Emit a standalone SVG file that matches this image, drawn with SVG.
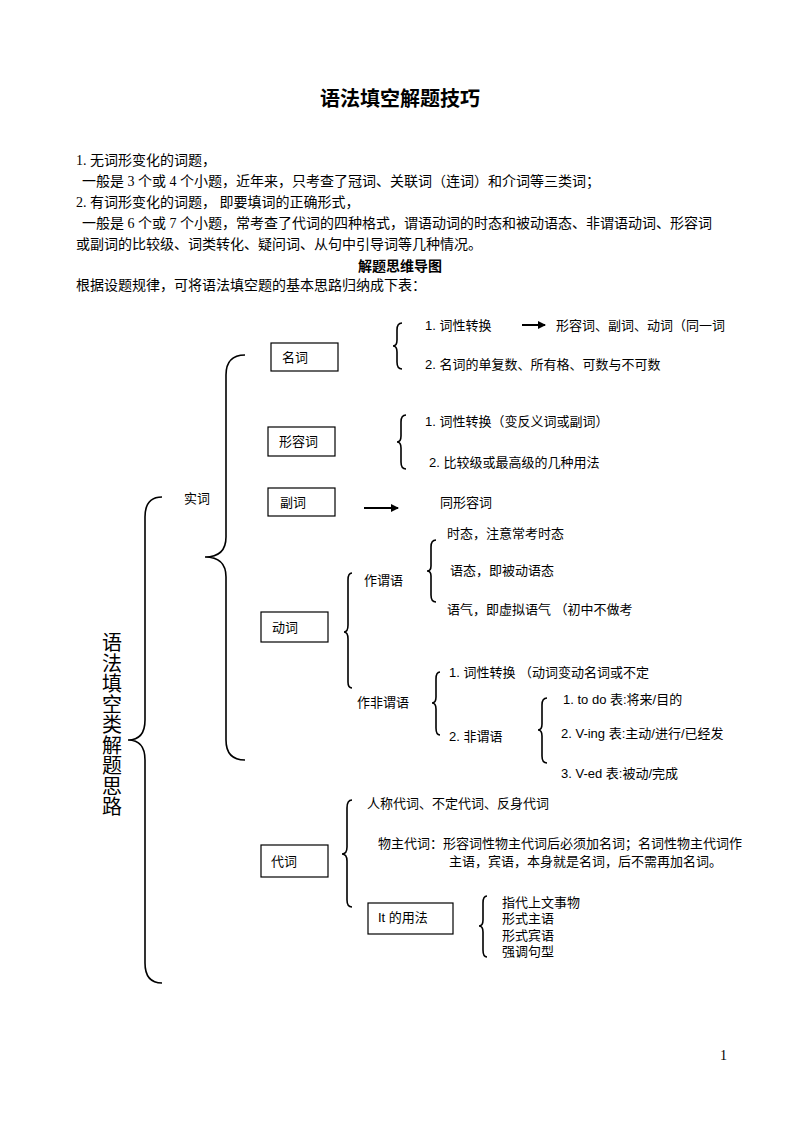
<svg xmlns="http://www.w3.org/2000/svg" width="800" height="1132" viewBox="0 0 800 1132">
<style>
.s{font-family:"Liberation Serif","Noto Sans CJK SC",serif;font-size:14px;fill:#000}
.t{font-family:"Liberation Sans","Noto Sans CJK SC",sans-serif;font-size:13px;fill:#000}
.v{font-family:"Liberation Sans","Noto Sans CJK SC",sans-serif;font-size:20px;fill:#000}
.b{fill:none;stroke:#000;stroke-width:1.6}
.bx{fill:#fff;stroke:#000;stroke-width:1.2}
</style>
<defs><marker id="ah" markerWidth="8" markerHeight="8" refX="7" refY="4" orient="auto" markerUnits="userSpaceOnUse"><path d="M0,0 L8,4 L0,8 z" fill="#000"/></marker></defs>
<rect width="800" height="1132" fill="#fff"/>
<text x="400" y="106" text-anchor="middle" style="font-family:'Noto Sans CJK SC',sans-serif;font-size:20px;font-weight:bold">语法填空解题技巧</text>
<text class="s" x="76" y="165">1. 无词形变化的词题，</text>
<text class="s" x="82" y="186">一般是 3 个或 4 个小题，近年来，只考查了冠词、关联词（连词）和介词等三类词；</text>
<text class="s" x="76" y="207">2. 有词形变化的词题， 即要填词的正确形式，</text>
<text class="s" x="82" y="228">一般是 6 个或 7 个小题，常考查了代词的四种格式，谓语动词的时态和被动语态、非谓语动词、形容词</text>
<text class="s" x="76" y="249">或副词的比较级、词类转化、疑问词、从句中引导词等几种情况。</text>
<text class="s" x="400" y="271" text-anchor="middle" font-weight="bold">解题思维导图</text>
<text class="s" x="76" y="290">根据设题规律，可将语法填空题的基本思路归纳成下表：</text>

<g id="connectors">
<path class="b" d="M162,497 Q145,497 145,517 L145,720 Q145,740 128,740 Q145,740 145,760 L145,963 Q145,983 162,983"/>
<path class="b" d="M245,355 Q226,355 226,375 L226,537 Q226,557 205,557 Q226,557 226,577 L226,740 Q226,760 245,760"/>
<path class="b" d="M402,323 Q397,323 397,330 L397,340 Q397,346 393,346 Q397,346 397,352 L397,362 Q397,369 402,369"/>
<path class="b" d="M406,415 Q401,415 401,422 L401,436 Q401,442 397,442 Q401,442 401,448 L401,462 Q401,469 406,469"/>
<path class="b" d="M352,573 Q348,573 348,580 L348,625 Q348,632 344,632 Q348,632 348,639 L348,682 Q348,688 352,688"/>
<path class="b" d="M436,540 Q431,540 431,547 L431,566 Q431,571 427,571 Q431,571 431,576 L431,595 Q431,602 436,602"/>
<path class="b" d="M440,672 Q436,672 436,679 L436,697 Q436,703 432,703 Q436,703 436,709 L436,728 Q436,735 440,735"/>
<path class="b" d="M547,698 Q542,698 542,705 L542,724 Q542,730 538,730 Q542,730 542,736 L542,756 Q542,763 547,763"/>
<path class="b" d="M352,800 Q347,800 347,808 L347,847 Q347,854 342,854 Q347,854 347,861 L347,900 Q347,907 352,907"/>
<path class="b" d="M487,896 Q483,896 483,903 L483,920 Q483,926 479,926 Q483,926 483,932 L483,950 Q483,957 487,957"/>
<line x1="522" y1="325" x2="545" y2="325" stroke="#000" stroke-width="2" marker-end="url(#ah)"/>
<line x1="364" y1="508" x2="398" y2="508" stroke="#000" stroke-width="2" marker-end="url(#ah)"/>
</g>

<g id="root"><text class="v" x="112" y="650" text-anchor="middle"><tspan x="112" dy="0">语</tspan><tspan x="112" dy="20.5">法</tspan><tspan x="112" dy="20.5">填</tspan><tspan x="112" dy="20.5">空</tspan><tspan x="112" dy="20.5">类</tspan><tspan x="112" dy="20.5">解</tspan><tspan x="112" dy="20.5">题</tspan><tspan x="112" dy="20.5">思</tspan><tspan x="112" dy="20.5">路</tspan></text></g>
<g id="shici"><text class="t" x="184" y="503">实词</text></g>
<g id="mingci"><rect class="bx" x="271" y="343" width="67" height="28"/><text class="t" x="282" y="362">名词</text></g>
<g id="mingci-items"><text class="t" x="425" y="330">1.  词性转换</text><text class="t" x="556" y="330">形容词、副词、动词（同一词</text><text class="t" x="425" y="369">2.  名词的单复数、所有格、可数与不可数</text></g>
<g id="xingrongci"><rect class="bx" x="268" y="427" width="67" height="29"/><text class="t" x="279" y="446">形容词</text></g>
<g id="xrc-items"><text class="t" x="425" y="426">1.  词性转换（变反义词或副词）</text><text class="t" x="429" y="467">2.  比较级或最高级的几种用法</text></g>
<g id="fuci"><rect class="bx" x="268" y="488" width="67" height="28"/><text class="t" x="280" y="507">副词</text><text class="t" x="440" y="507">同形容词</text></g>
<g id="dongci"><rect class="bx" x="261" y="612" width="67" height="30"/><text class="t" x="272" y="632">动词</text></g>
<g id="zuoweiyu"><text class="t" x="364" y="585">作谓语</text><text class="t" x="447" y="538">时态，注意常考时态</text><text class="t" x="450" y="575">语态，即被动语态</text><text class="t" x="447" y="614">语气，即虚拟语气  （初中不做考</text></g>
<g id="feiweiyu"><text class="t" x="357" y="707">作非谓语</text><text class="t" x="449" y="677">1.  词性转换  （动词变动名词或不定</text><text class="t" x="449" y="741">2.  非谓语</text><text class="t" x="563" y="704">1.  to  do  表:将来/目的</text><text class="t" x="561" y="738">2.  V-ing  表:主动/进行/已经发</text><text class="t" x="561" y="778">3.  V-ed    表:被动/完成</text></g>
<g id="daici"><rect class="bx" x="261" y="845" width="67" height="32"/><text class="t" x="271" y="866">代词</text><text class="t" x="367" y="808">人称代词、不定代词、反身代词</text><text class="t" x="378" y="848">物主代词：形容词性物主代词后必须加名词；名词性物主代词作</text><text class="t" x="449" y="866">主语，宾语，本身就是名词，后不需再加名词。</text></g>
<g id="it"><rect class="bx" x="368" y="903" width="85" height="31"/><text class="t" x="378" y="922">It 的用法</text><text class="t" x="502" y="907">指代上文事物</text><text class="t" x="502" y="923">形式主语</text><text class="t" x="502" y="940">形式宾语</text><text class="t" x="502" y="956">强调句型</text></g>
<text class="s" x="720" y="1060" font-size="11">1</text>
</svg>
